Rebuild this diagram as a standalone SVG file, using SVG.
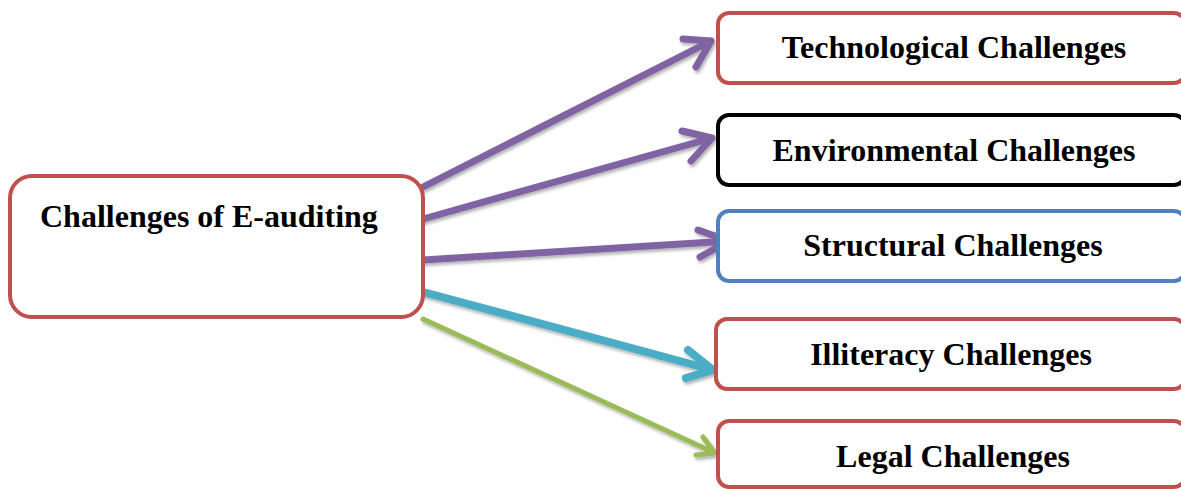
<svg xmlns="http://www.w3.org/2000/svg" width="1181" height="489" viewBox="0 0 1181 489">
  <defs>
    <style>
      .box { fill: #ffffff; stroke-width: 4; }
      .red { stroke: #c0504d; }
      .black { stroke: #000000; }
      .blue { stroke: #4f81bd; }
      .lbl { font-family: "Liberation Serif", "Times New Roman", serif; font-weight: bold; font-size: 32px; fill: #000000; }
      .mid { text-anchor: middle; }
      .conn { fill: none; stroke-linecap: round; stroke-linejoin: round; }
      .purple { stroke: #8064a2; stroke-width: 7; }
      .cyan { stroke: #4bacc6; stroke-width: 8; }
      .green { stroke: #9bbb59; stroke-width: 5; }
    </style>
    <filter id="sh" x="-10%" y="-20%" width="120%" height="140%">
      <feDropShadow dx="1.5" dy="2.5" stdDeviation="1.5" flood-color="#000000" flood-opacity="0.3"/>
    </filter>
  </defs>

  <g id="connectors" filter="url(#sh)">
    <path class="conn purple" d="M423 187 L711 41 M683 39 L711 41 L696 67"/>
    <path class="conn purple" d="M423 219 L712 138 M682 131 L712 138 L691 161"/>
    <path class="conn purple" d="M423 260 L729 241 M698 230 L729 241 L700 257"/>
    <path class="conn cyan" d="M423 292 L713 370 M688 350 L713 370 L686 378"/>
    <path class="conn green" d="M423 319 L715 453 M703 437 L715 453 L696 455"/>
  </g>

  <g id="node-main">
    <rect class="box red" x="10" y="176" width="413" height="141" rx="22" ry="22"/>
    <text class="lbl" x="40" y="227">Challenges of E-auditing</text>
  </g>

  <g id="node-technological">
    <rect class="box red" x="718" y="13" width="467" height="70" rx="11" ry="11"/>
    <text class="lbl mid" x="954" y="58">Technological Challenges</text>
  </g>

  <g id="node-environmental">
    <rect class="box black" x="718" y="115" width="467" height="70" rx="11" ry="11"/>
    <text class="lbl mid" x="954" y="161">Environmental Challenges</text>
  </g>

  <g id="node-structural">
    <rect class="box blue" x="718" y="211" width="467" height="70" rx="11" ry="11"/>
    <text class="lbl mid" x="953" y="256">Structural Challenges</text>
  </g>

  <g id="node-illiteracy">
    <rect class="box red" x="716" y="319" width="469" height="70" rx="11" ry="11"/>
    <text class="lbl mid" x="951" y="365">Illiteracy Challenges</text>
  </g>

  <g id="node-legal">
    <rect class="box red" x="718" y="421" width="467" height="66" rx="11" ry="11"/>
    <text class="lbl mid" x="953" y="467">Legal Challenges</text>
  </g>
</svg>
